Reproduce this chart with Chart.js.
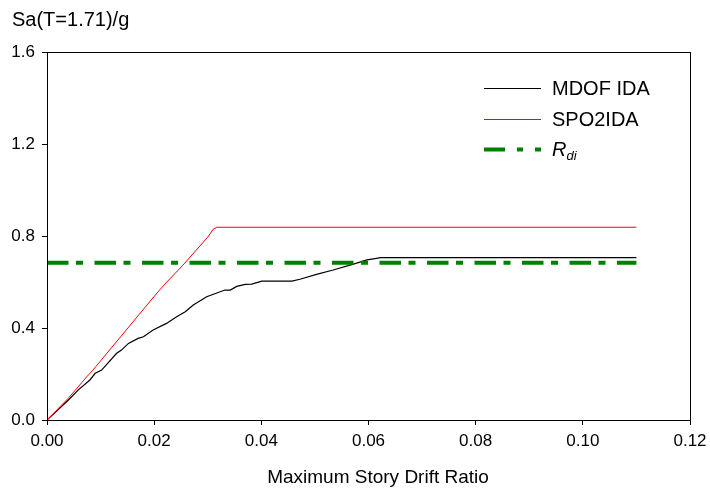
<!DOCTYPE html>
<html>
<head>
<meta charset="utf-8">
<script src="https://cdn.jsdelivr.net/npm/chart.js@4/dist/chart.umd.min.js"></script>
<style>
  html, body { margin: 0; padding: 0; background: #fff; }
  #wrap { width: 710px; height: 490px; }
</style>
</head>
<body>
<div id="wrap"><canvas id="c" width="710" height="490"></canvas></div>
<script>
'use strict';

// MDOF IDA curve
const mdofX = [0, 0.0040, 0.0058, 0.0080, 0.0090, 0.0102, 0.0130, 0.0139, 0.0152, 0.0170,
  0.0180, 0.0198, 0.0223, 0.0242, 0.0258, 0.0273, 0.0298, 0.0317, 0.0332, 0.0342,
  0.0354, 0.0370, 0.0382, 0.0401, 0.0457, 0.0472, 0.0503, 0.0534, 0.0572, 0.0597,
  0.0615, 0.0622, 0.11];
const mdofY = [0, 0.087, 0.130, 0.174, 0.203, 0.217, 0.290, 0.304, 0.333, 0.355,
  0.362, 0.391, 0.420, 0.449, 0.471, 0.500, 0.536, 0.552, 0.565, 0.565,
  0.581, 0.590, 0.591, 0.604, 0.604, 0.612, 0.633, 0.652, 0.678, 0.696,
  0.703, 0.706, 0.706];

// SPO2IDA curve
const spoX = [0, 0.0040, 0.0075, 0.0085, 0.0202, 0.0220, 0.0254, 0.0300, 0.0310, 0.0317, 0.11];
const spoY = [0, 0.095, 0.190, 0.215, 0.543, 0.591, 0.674, 0.795, 0.829, 0.838, 0.838];

// R_di level
const rdiX = [0, 0.11];
const rdiY = [0.684, 0.684];

const xTicks = [0, 0.02, 0.04, 0.06, 0.08, 0.10, 0.12];
const yTicks = [0, 0.4, 0.8, 1.2, 1.6];

const FONT = '"Liberation Sans", Arial, sans-serif';
const pts = (xs, ys) => xs.map((x, i) => ({ x, y: ys[i] }));

const RDI_DASH = [21.5, 7.5, 7, 11.5];

const frameAndText = {
  id: 'frameAndText',
  afterDraw(chart) {
    const { ctx, chartArea: a } = chart;
    ctx.save();
    // box round the plot
    ctx.strokeStyle = '#000';
    ctx.lineWidth = 1;
    ctx.strokeRect(a.left + 0.5, a.top + 0.5, a.right - a.left, a.bottom - a.top);

    ctx.fillStyle = '#000';
    ctx.textBaseline = 'alphabetic';
    ctx.textAlign = 'left';
    ctx.font = '20px ' + FONT;
    ctx.fillText('Sa(T=1.71)/g', 12, 26);

    ctx.textAlign = 'center';
    ctx.font = '19px ' + FONT;
    ctx.fillText('Maximum Story Drift Ratio', 378, 483);

    // legend
    const lx0 = 484, lx1 = 541, tx = 552;
    const rows = [
      { y: 88, color: '#000', w: 1.2, dash: [], label: 'MDOF IDA' },
      { y: 119, color: '#ff0000', w: 1, dash: [], label: 'SPO2IDA' },
      { y: 149, color: '#008000', w: 4, dash: [21, 12, 6, 12], label: null }
    ];
    ctx.textAlign = 'left';
    rows.forEach(r => {
      ctx.beginPath();
      ctx.strokeStyle = r.color;
      ctx.lineWidth = r.w;
      ctx.setLineDash(r.dash);
      ctx.moveTo(lx0, r.y + 0.5);
      ctx.lineTo(lx1, r.y + 0.5);
      ctx.stroke();
      ctx.setLineDash([]);
      ctx.fillStyle = '#000';
      if (r.label) {
        ctx.font = '20px ' + FONT;
        ctx.fillText(r.label, tx, r.y + 7);
      }
    });
    ctx.font = 'italic 20px ' + FONT;
    ctx.fillText('R', tx, 156);
    const rw = ctx.measureText('R').width;
    ctx.font = 'italic 13px ' + FONT;
    ctx.fillText('di', tx + rw, 160);
    ctx.restore();
  }
};

new Chart(document.getElementById('c'), {
  type: 'scatter',
  data: {
    datasets: [
      {
        label: 'R_di', data: pts(rdiX, rdiY), showLine: true,
        borderColor: '#008000', borderWidth: 4, borderDash: RDI_DASH,
        pointRadius: 0, borderCapStyle: 'butt'
      },
      {
        label: 'SPO2IDA', data: pts(spoX, spoY), showLine: true,
        borderColor: '#ff0000', borderWidth: 1, pointRadius: 0
      },
      {
        label: 'MDOF IDA', data: pts(mdofX, mdofY), showLine: true,
        borderColor: '#000', borderWidth: 1.2, pointRadius: 0
      }
    ]
  },
  options: {
    responsive: false,
    animation: false,
    layout: { padding: { top: 52, right: 20, left: 0, bottom: 0 } },
    plugins: { legend: { display: false }, tooltip: { enabled: false } },
    scales: {
      x: {
        type: 'linear', min: 0, max: 0.12,
        afterBuildTicks: s => { s.ticks = xTicks.map(v => ({ value: v })); },
        afterFit: s => { s.height = 70; s.paddingRight = 0; s.paddingLeft = 0; },
        ticks: {
          color: '#000', font: { family: FONT, size: 17 }, padding: 6,
          maxRotation: 0, callback: v => v.toFixed(2)
        },
        grid: { drawOnChartArea: false, tickLength: 5, color: '#000' },
        border: { color: '#000', width: 1 }
      },
      y: {
        min: 0, max: 1.6,
        afterBuildTicks: s => { s.ticks = yTicks.map(v => ({ value: v })); },
        afterFit: s => { s.width = 47; s.paddingTop = 0; s.paddingBottom = 0; },
        ticks: {
          color: '#000', font: { family: FONT, size: 17 }, padding: 7,
          callback: v => v.toFixed(1)
        },
        grid: { drawOnChartArea: false, tickLength: 5, color: '#000' },
        border: { color: '#000', width: 1 }
      }
    }
  },
  plugins: [frameAndText]
});
</script>
</body>
</html>
